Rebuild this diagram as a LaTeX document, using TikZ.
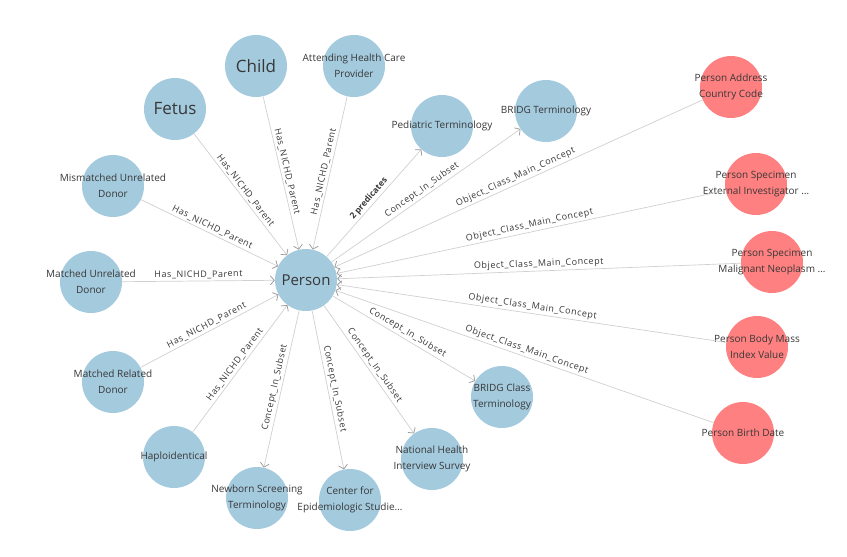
\documentclass[tikz,border=0pt]{standalone}
\usepackage{fontspec}
\setmainfont{Open Sans}
\newfontfamily\edgefont[LetterSpace=6]{Open Sans}
\usetikzlibrary{arrows.meta}

\definecolor{conceptblue}{RGB}{164,202,222}
\definecolor{elementred}{RGB}{255,128,128}
\definecolor{edgegray}{RGB}{208,208,208}
\definecolor{tipgray}{RGB}{150,150,150}
\definecolor{labelgray}{RGB}{55,55,55}

\begin{document}
\begin{tikzpicture}[
  x=1pt, y=-1pt,
  font=\fontsize{10}{16}\selectfont,
  text=labelgray,
  disc/.style={circle, minimum size=62pt, inner sep=0pt},
  concept/.style={disc, fill=conceptblue, label={[align=center]center:#1}},
  element/.style={disc, fill=elementred, label={[align=center]center:#1}},
  bigname/.style={disc, fill=conceptblue, label={[font=\fontsize{17}{20}\selectfont]center:#1}},
  rel/.style={draw=edgegray, line width=0.7pt, -{Straight Barb[length=4pt, width=9pt, color=tipgray]}},
  rellabel/.style={sloped, above, inner sep=2pt, font=\edgefont\fontsize{9}{10}\selectfont},
  boldlabel/.style={rellabel, font=\fontsize{8.5}{10}\selectfont\bfseries}
]
\useasboundingbox (0,0) rectangle (847,557);

\node[disc, fill=conceptblue, label={[font=\fontsize{15}{18}\selectfont]center:Person}] (person) at (306,280) {};

\node[bigname={Child}] (child) at (256,66) {};
\node[concept={Attending Health Care\\Provider}] (attending) at (354,66) {};
\node[bigname={Fetus}] (fetus) at (175,109) {};
\node[concept={Mismatched Unrelated\\Donor}] (mismatched) at (113,186) {};
\node[concept={Matched Unrelated\\Donor}] (matchedunrel) at (91,282) {};
\node[concept={Matched Related\\Donor}] (matchedrel) at (113,382) {};
\node[concept={Haploidentical}] (haplo) at (174,457) {};

\node[concept={Newborn Screening\\Terminology}] (newborn) at (257,498) {};
\node[concept={Center for\\Epidemiologic Studie\ldots}] (cdc) at (350,500) {};
\node[concept={National Health\\Interview Survey}] (nhis) at (432,459) {};
\node[concept={BRIDG Class\\Terminology}] (bridgclass) at (502,397) {};
\node[concept={Pediatric Terminology}] (pediatric) at (442,126) {};
\node[concept={BRIDG Terminology}] (bridg) at (546,111) {};

\node[element={Person Address\\Country Code}] (address) at (731,87) {};
\node[element={Person Specimen\\External Investigator \ldots}] (extinv) at (756,184) {};
\node[element={Person Specimen\\Malignant Neoplasm \ldots}] (neoplasm) at (772,262) {};
\node[element={Person Body Mass\\Index Value}] (bmi) at (757,347) {};
\node[element={Person Birth Date}] (birth) at (743,433) {};

\draw[rel] (child) -- node[rellabel] {Has\_NICHD\_Parent} (person);
\draw[rel] (attending) -- node[rellabel] {Has\_NICHD\_Parent} (person);
\draw[rel] (fetus) -- node[rellabel] {Has\_NICHD\_Parent} (person);
\draw[rel] (mismatched) -- node[rellabel] {Has\_NICHD\_Parent} (person);
\draw[rel] (matchedunrel) -- node[rellabel] {Has\_NICHD\_Parent} (person);
\draw[rel] (matchedrel) -- node[rellabel] {Has\_NICHD\_Parent} (person);
\draw[rel] (haplo) -- node[rellabel] {Has\_NICHD\_Parent} (person);

\draw[rel] (person) -- node[boldlabel] {2 predicates} (pediatric);
\draw[rel] (person) -- node[rellabel] {Concept\_In\_Subset} (bridg);
\draw[rel] (person) -- node[rellabel] {Concept\_In\_Subset} (newborn);
\draw[rel] (person) -- node[rellabel] {Concept\_In\_Subset} (cdc);
\draw[rel] (person) -- node[rellabel] {Concept\_In\_Subset} (nhis);
\draw[rel] (person) -- node[rellabel] {Concept\_In\_Subset} (bridgclass);

\draw[rel] (address) -- node[rellabel] {Object\_Class\_Main\_Concept} (person);
\draw[rel] (extinv) -- node[rellabel] {Object\_Class\_Main\_Concept} (person);
\draw[rel] (neoplasm) -- node[rellabel] {Object\_Class\_Main\_Concept} (person);
\draw[rel] (bmi) -- node[rellabel] {Object\_Class\_Main\_Concept} (person);
\draw[rel] (birth) -- node[rellabel] {Object\_Class\_Main\_Concept} (person);

\end{tikzpicture}
\end{document}
